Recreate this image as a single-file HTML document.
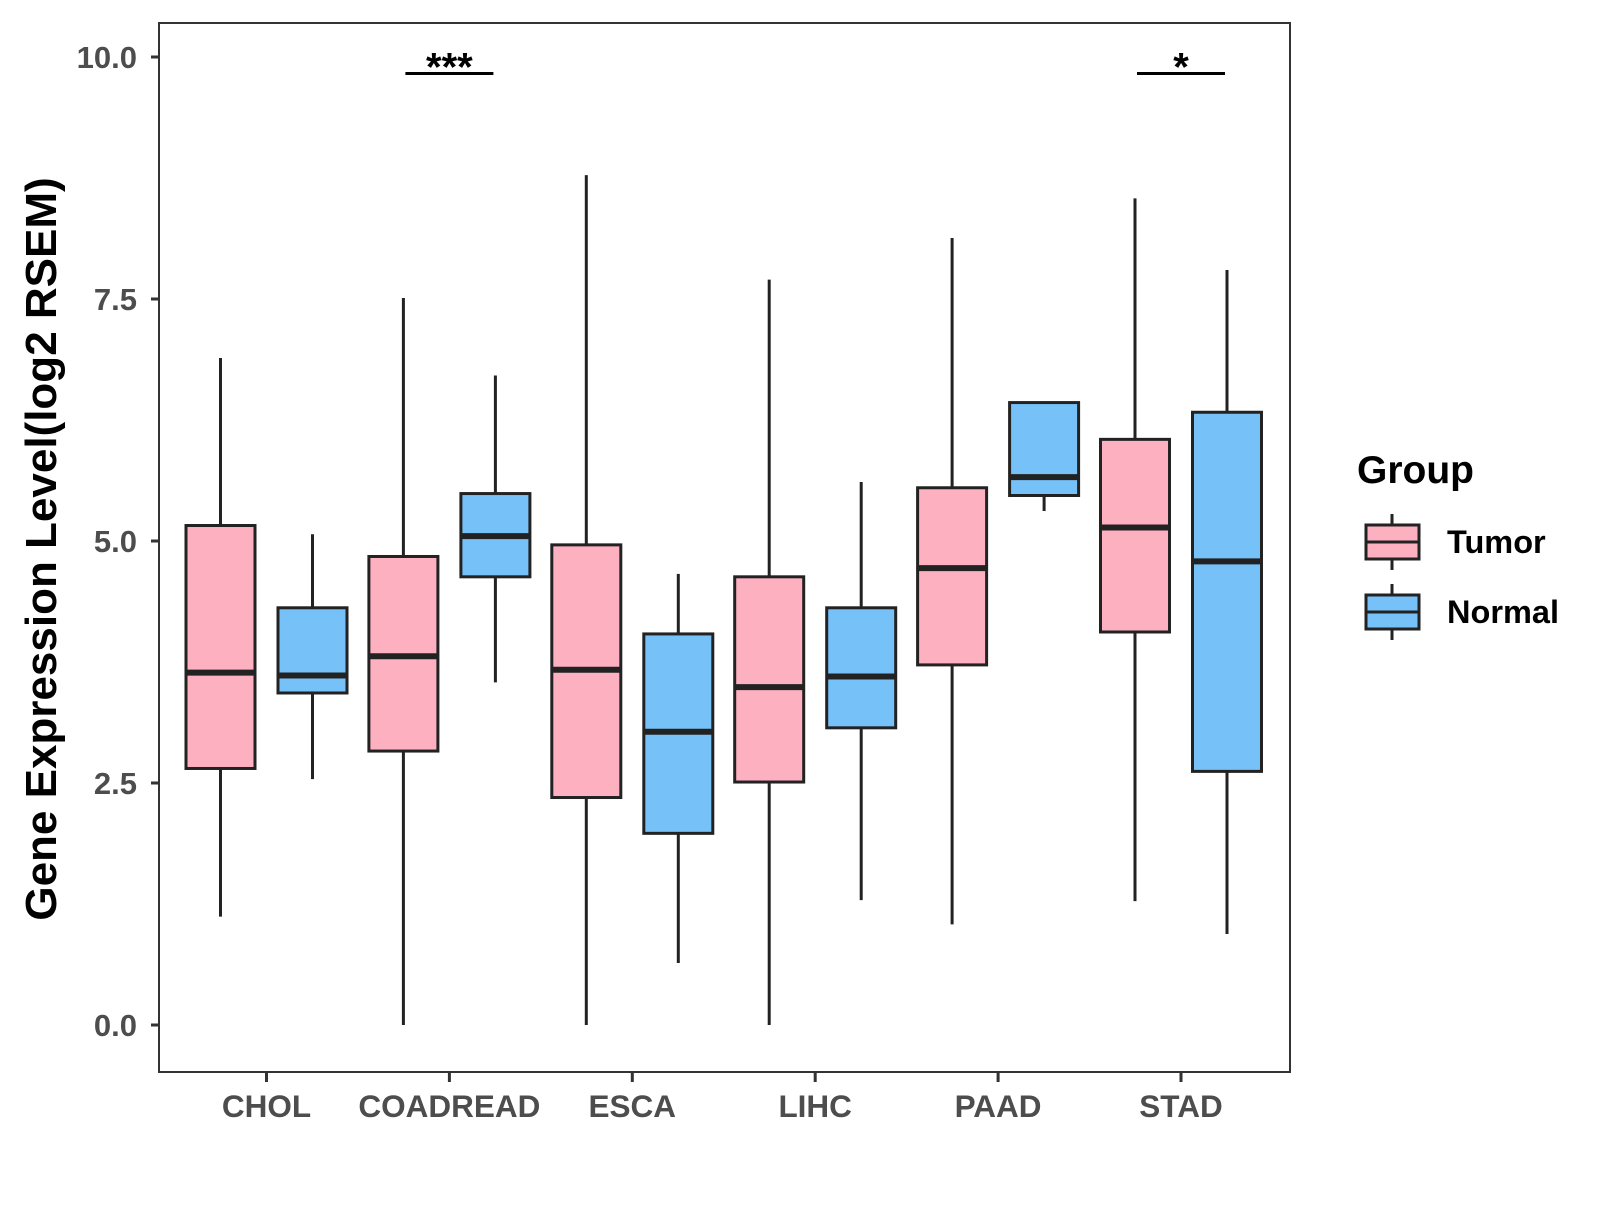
<!DOCTYPE html>
<html><head><meta charset="utf-8"><style>
body{margin:0;background:#fff}
text{font-family:"Liberation Sans",Arial,sans-serif;font-weight:bold}
</style></head><body>
<svg id="chart" width="1600" height="1200" xmlns="http://www.w3.org/2000/svg">
<rect x="0" y="0" width="1600" height="1200" fill="#fff"/>
<g id="plot"></g>
<text x="1357" y="483" font-size="39" fill="#000">Group</text>
</svg>
<script>
const categories=["CHOL","COADREAD","ESCA","LIHC","PAAD","STAD"];
const tumorStats=[[1.12,2.65,3.64,5.16,6.89],[0,2.83,3.81,4.84,7.51],[0,2.35,3.67,4.96,8.78],[0,2.51,3.49,4.63,7.70],[1.04,3.72,4.72,5.55,8.13],[1.28,4.06,5.14,6.05,8.54]];
const normalStats=[[2.54,3.43,3.61,4.31,5.07],[3.54,4.63,5.05,5.49,6.71],[0.64,1.98,3.03,4.04,4.66],[1.29,3.07,3.60,4.31,5.61],[5.31,5.47,5.66,6.43,6.44],[0.94,2.62,4.79,6.33,7.80]];
const yTicks=[0,2.5,5,7.5,10];
const yTickLabels=["0.0","2.5","5.0","7.5","10.0"];
const sigCats=["COADREAD","STAD"];
const sigLabels=["***","*"];
const sigLevel=9.83;
const NS="http://www.w3.org/2000/svg";
const L=159,R=1290,T=23,B=1072;
const y=v=>1025-v*96.8;
const x=i=>266.5+i*182.9;
const svg=document.getElementById('chart');
function mk(tag,attrs,parent){const e=document.createElementNS(NS,tag);for(const k in attrs)e.setAttribute(k,attrs[k]);(parent||svg).appendChild(e);return e;}
const g=document.getElementById('plot');
const frame=mk('rect',{x:L,y:T,width:R-L,height:B-T,fill:'none',stroke:'#333','stroke-width':2},g);


yTicks.forEach((t,i)=>{
 const l=mk('line',{x1:L-8,x2:L,y1:y(t),y2:y(t),stroke:'#333','stroke-width':3});
 
 
 const tx=mk('text',{x:L-22,y:y(t)+11,'font-size':31,fill:'#4d4d4d','text-anchor':'end'});
 tx.textContent=yTickLabels[i];
 
 
});
categories.forEach((c,i)=>{
 const l=mk('line',{x1:x(i),x2:x(i),y1:B,y2:B+10,stroke:'#333','stroke-width':3});
 
 
 const tx=mk('text',{x:x(i),y:1117,'font-size':31.5,fill:'#4d4d4d','text-anchor':'middle'});
 tx.textContent=c;
 
 
});
function box(cx,s,fill,name){
 const w=69;
 const grp=mk('g',{},g);
 
 
 mk('line',{x1:cx,x2:cx,y1:y(s[4]),y2:y(s[3]),stroke:'#222','stroke-width':3},grp);
 mk('line',{x1:cx,x2:cx,y1:y(s[1]),y2:y(s[0]),stroke:'#222','stroke-width':3},grp);
 mk('rect',{x:cx-w/2,y:y(s[3]),width:w,height:y(s[1])-y(s[3]),fill:fill,stroke:'#222','stroke-width':3},grp);
 mk('line',{x1:cx-w/2,x2:cx+w/2,y1:y(s[2]),y2:y(s[2]),stroke:'#222','stroke-width':6},grp);
}
categories.forEach((c,i)=>{
 box(x(i)-46,tumorStats[i],'#FDB0C0','box-tumor-'+c.toLowerCase());
 box(x(i)+46,normalStats[i],'#76C2F8','box-normal-'+c.toLowerCase());
});
sigCats.forEach((c,k)=>{
 const i=categories.indexOf(c);
 const l=mk('line',{x1:x(i)-44,x2:x(i)+44,y1:y(sigLevel),y2:y(sigLevel),stroke:'#000','stroke-width':3});
 
 
 const tx=mk('text',{x:x(i),y:y(sigLevel)+7,'font-size':40,fill:'#000','text-anchor':'middle'});
 tx.textContent=sigLabels[k];
 
 
});
const yt=mk('text',{x:0,y:0,'font-size':44,fill:'#000','text-anchor':'middle',transform:'translate(56,549) rotate(-90)'});
yt.textContent='Gene Expression Level(log2 RSEM)';


[["Tumor","#FDB0C0",542],["Normal","#76C2F8",612]].forEach(([n,f,cy])=>{
 const grp=mk('g',{});
 
 
 mk('line',{x1:1392,x2:1392,y1:cy-28,y2:cy+28,stroke:'#222','stroke-width':3},grp);
 mk('rect',{x:1366,y:cy-17,width:53,height:34,fill:f,stroke:'#222','stroke-width':3},grp);
 mk('line',{x1:1366,x2:1419,y1:cy,y2:cy,stroke:'#222','stroke-width':3},grp);
 const tx=mk('text',{x:1447,y:cy+11,'font-size':32.5,fill:'#000'},grp);
 tx.textContent=n;
});
</script>
</body></html>
